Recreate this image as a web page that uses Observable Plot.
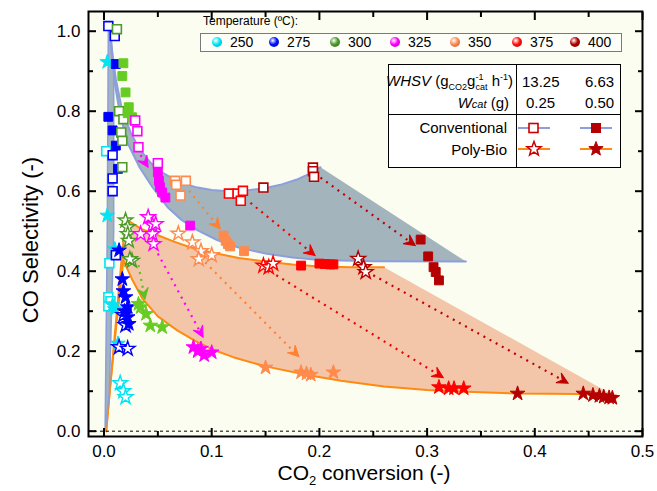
<!DOCTYPE html>
<html><head><meta charset="utf-8">
<script src="https://cdn.jsdelivr.net/npm/d3@7"></script>
<script src="https://cdn.jsdelivr.net/npm/@observablehq/plot@0.6"></script>
<style>
body{margin:0;background:#fff;}
#wrap{position:relative;width:657px;height:491px;font-family:"Liberation Sans",Arial,sans-serif;color:#000;}
.abs{position:absolute;white-space:nowrap;line-height:1;}
.sph{position:absolute;width:10px;height:10px;border-radius:50%;}
</style></head><body>
<div id="wrap"></div>
<script>
// ---------- categories ----------
const temps = [250, 275, 300, 325, 350, 375, 400];
const strokeColors = ["#00e4f4", "#0000ff", "#4e9a28", "#ff00ff", "#ff8a4c", "#ff0000", "#b40000"];
const fillColors   = ["#00e4f4", "#0000ff", "#66cc22", "#ff00ff", "#ff8a4c", "#ff0000", "#b40000"];
const legendSphere = ["#00e8f8", "#0010ff", "#4c9a2a", "#ff00ff", "#ff8a50", "#ff1010", "#b00000"];

// ---------- data (x = CO2 conversion, y = CO selectivity) ----------
// conventional, W = 0.25 g (open squares) / 0.50 g (filled squares)
const conv250_025 = [[0.002,0.700],[0.005,0.420],[0.004,0.335],[0.006,0.325],[0.004,0.312]];
const conv250_050 = [];
const conv275_025 = [[0.004,1.013],[0.010,0.988],[0.008,0.690],[0.008,0.632],[0.008,0.600],[0.011,0.440]];
const conv275_050 = [[0.011,0.918],[0.004,0.786],[0.008,0.752],[0.011,0.714],[0.013,0.656]];
const conv300_025 = [[0.012,1.005],[0.014,0.800],[0.018,0.780],[0.016,0.747],[0.017,0.726],[0.017,0.660]];
const conv300_050 = [[0.018,0.920],[0.017,0.888],[0.020,0.847],[0.023,0.810],[0.022,0.795],[0.026,0.785],[0.028,0.777]];
const conv325_025 = [[0.029,0.777],[0.031,0.750],[0.032,0.710],[0.050,0.670]];
const conv325_050 = [[0.050,0.647],[0.051,0.626],[0.052,0.610],[0.054,0.597],[0.057,0.584],[0.080,0.514]];
const conv350_025 = [[0.066,0.626],[0.076,0.626],[0.071,0.589],[0.067,0.616]];
const conv350_050 = [[0.111,0.489],[0.113,0.476],[0.115,0.468],[0.117,0.462],[0.130,0.450]];
const conv375_025 = [[0.116,0.594],[0.124,0.594],[0.129,0.601],[0.127,0.576]];
const conv375_050 = [[0.183,0.414],[0.200,0.419],[0.205,0.418],[0.210,0.417],[0.213,0.417]];
const conv400_025 = [[0.148,0.609],[0.194,0.659],[0.194,0.650],[0.195,0.636]];
const conv400_050 = [[0.294,0.479],[0.301,0.437],[0.306,0.410],[0.308,0.398],[0.311,0.377]];
// poly-bio, W = 0.25 g (open stars) / 0.50 g (filled stars)
const poly250_025 = [[0.015,0.120],[0.018,0.100],[0.020,0.085]];
const poly250_050 = [[0.003,0.923],[0.003,0.539],[0.008,0.315],[0.010,0.305],[0.013,0.219],[0.010,0.455]];
const poly275_025 = [[0.018,0.290],[0.020,0.265],[0.014,0.210],[0.022,0.206]];
const poly275_050 = [[0.014,0.452],[0.017,0.380],[0.018,0.350],[0.020,0.335],[0.022,0.310],[0.019,0.300],[0.022,0.285],[0.023,0.268]];
const poly300_025 = [[0.020,0.527],[0.022,0.510],[0.022,0.493],[0.023,0.476],[0.026,0.426],[0.024,0.430]];
const poly300_050 = [[0.032,0.318],[0.034,0.310],[0.039,0.293],[0.043,0.264],[0.054,0.260]];
const poly325_025 = [[0.041,0.535],[0.045,0.515],[0.034,0.493],[0.045,0.493],[0.046,0.468],[0.048,0.518]];
const poly325_050 = [[0.083,0.210],[0.087,0.200],[0.090,0.206],[0.093,0.190],[0.100,0.197]];
const poly350_025 = [[0.069,0.494],[0.082,0.472],[0.090,0.450],[0.088,0.430],[0.100,0.440]];
const poly350_050 = [[0.150,0.159],[0.183,0.147],[0.188,0.144],[0.192,0.141],[0.213,0.147]];
const poly375_025 = [[0.148,0.414],[0.153,0.410],[0.157,0.419]];
const poly375_050 = [[0.311,0.110],[0.320,0.107],[0.325,0.107],[0.334,0.107]];
const poly400_025 = [[0.236,0.431],[0.241,0.410],[0.243,0.398]];
const poly400_050 = [[0.384,0.094],[0.445,0.094],[0.454,0.090],[0.460,0.088],[0.464,0.086],[0.469,0.084],[0.472,0.083]];

// ---------- shaded regions ----------
const convBand  = [[0.001,0.0],[0.003,0.5],[0.004,1.0],[0.006,1.01],[0.009,0.90],[0.009,0.5],[0.005,0.10],[0.001,0.0]];
const convUpper = [[0.005,1.005],[0.008,0.940],[0.011,0.880],[0.017,0.800],[0.025,0.745],[0.033,0.705],[0.043,0.672],[0.055,0.645],[0.070,0.622],[0.087,0.609],[0.100,0.603],[0.115,0.600],[0.130,0.601],[0.148,0.607],[0.165,0.617],[0.180,0.630],[0.192,0.645],[0.201,0.660]];
const convTip   = [0.336, 0.424];
const convLower = [[0.005,1.005],[0.007,0.950],[0.010,0.870],[0.015,0.790],[0.022,0.720],[0.033,0.660],[0.045,0.610],[0.059,0.560],[0.072,0.528],[0.087,0.502],[0.105,0.478],[0.124,0.460],[0.150,0.444],[0.175,0.434],[0.200,0.428],[0.250,0.425],[0.336,0.424]];
const polyLeft  = [[0.002,0.0],[0.007,0.150],[0.012,0.300],[0.016,0.420],[0.019,0.500],[0.023,0.525]];
const polyUpper = [[0.023,0.525],[0.035,0.505],[0.050,0.490],[0.065,0.474],[0.080,0.460],[0.100,0.447],[0.125,0.433],[0.150,0.424],[0.175,0.417],[0.200,0.412],[0.230,0.410],[0.260,0.410]];
const polyTip   = [0.473, 0.090];
const polyLower = [[0.473,0.090],[0.440,0.093],[0.384,0.094],[0.330,0.099],[0.300,0.103],[0.260,0.112],[0.220,0.126],[0.190,0.140],[0.150,0.162],[0.120,0.185],[0.100,0.205],[0.085,0.225],[0.068,0.252],[0.050,0.287],[0.036,0.330],[0.026,0.380],[0.018,0.427]];
const polyRight = [[0.018,0.427],[0.012,0.280],[0.006,0.120],[0.002,0.0]];

// ---------- arrows (from -> to) ----------
const arrowTemp = [300, 325, 325, 350, 350, 375, 375, 400, 400];
const arrowFrom = [[0.032,0.415],[0.034,0.690],[0.050,0.444],[0.079,0.601],[0.094,0.422],[0.136,0.571],[0.160,0.390],[0.201,0.634],[0.250,0.390]];
const arrowTo   = [[0.038,0.330],[0.041,0.660],[0.092,0.235],[0.108,0.506],[0.181,0.186],[0.196,0.439],[0.315,0.134],[0.289,0.464],[0.431,0.120]];
const arrowColors = {300:"#5cc020", 325:"#ff00ff", 350:"#ff8030", 375:"#ee0000", 400:"#c00000"};

// ---------- ticks ----------
const xTicks = [0, 0.1, 0.2, 0.3, 0.4, 0.5];
const xMinor = [0.05, 0.15, 0.25, 0.35, 0.45];
const yTicks = [0, 0.2, 0.4, 0.6, 0.8, 1.0];
const yMinor = [0.1, 0.3, 0.5, 0.7, 0.9];

// ---------- layout ----------
const W = 657, H = 491, mL = 88, mR = 15, mT = 11, mB = 55;
const xDomain = [-0.0144, 0.5], yDomain = [-0.0133, 1.0493];
const kx = (W - mL - mR) / (xDomain[1] - xDomain[0]);
const ky = (H - mT - mB) / (yDomain[1] - yDomain[0]);

// ---------- build ----------
const P = a => a.map(([x, y]) => ({x, y}));
const convSeries = [conv250_025,conv250_050,conv275_025,conv275_050,conv300_025,conv300_050,conv325_025,conv325_050,conv350_025,conv350_050,conv375_025,conv375_050,conv400_025,conv400_050];
const polySeries = [poly250_025,poly250_050,poly275_025,poly275_050,poly300_025,poly300_050,poly325_025,poly325_050,poly350_025,poly350_050,poly375_025,poly375_050,poly400_025,poly400_050];

const convPoly = P([...convUpper, convTip, ...convLower.slice().reverse()]);
const polyPoly = P([...polyLeft, ...polyUpper, polyTip, ...polyLower, ...polyRight]);

const arrows = arrowTemp.map((t, i) => {
  const [x1, y1] = arrowFrom[i], [x2, y2] = arrowTo[i];
  const dxp = (x2 - x1) * kx, dyp = -(y2 - y1) * ky;
  return {x1, y1, x2, y2, c: arrowColors[t], rot: Math.atan2(dxp, -dyp) * 180 / Math.PI};
});

// arrow-head symbol: tip at the origin, pointing up
const arrowHead = {
  draw(ctx) {
    const L = 11, w = 5.5;
    ctx.moveTo(0, 0);
    ctx.lineTo(-w, L);
    ctx.lineTo(0, L * 0.62);
    ctx.lineTo(w, L);
    ctx.closePath();
  }
};

const GRAY = "#a4b4bc", BLUE = "#8c9fdc", PEACH = "#f3c6aa", ORANGE = "#ff8a10";

const marks = [
  Plot.frame({fill: "#fbfdf0", stroke: null}),
  // poly-bio region
  Plot.line(polyPoly, {x: "x", y: "y", fill: PEACH, stroke: "none"}),
  Plot.line(P(polyLeft), {x: "x", y: "y", stroke: ORANGE, strokeWidth: 2}),
  Plot.line(P(polyUpper), {x: "x", y: "y", stroke: ORANGE, strokeWidth: 2}),
  Plot.line(P(polyLower), {x: "x", y: "y", stroke: ORANGE, strokeWidth: 2}),
  Plot.line(P(polyRight), {x: "x", y: "y", stroke: ORANGE, strokeWidth: 2}),
  // conventional region
  Plot.line(convPoly, {x: "x", y: "y", fill: GRAY, stroke: "none"}),
  Plot.line(P(convBand), {x: "x", y: "y", fill: GRAY, stroke: BLUE, strokeWidth: 1.5}),
  Plot.line(P(convUpper), {x: "x", y: "y", stroke: BLUE, strokeWidth: 2}),
  Plot.line(P(convLower), {x: "x", y: "y", stroke: BLUE, strokeWidth: 2}),
  // zero line
  Plot.ruleY([0], {stroke: "black", strokeWidth: 1, strokeDasharray: "3,3"}),
  // arrows: dotted shaft + head
  Plot.link(arrows, {x1: "x1", y1: "y1", x2: "x2", y2: "y2", stroke: "c", strokeWidth: 2.2, strokeDasharray: "2,5"}),
  Plot.dot(arrows, {x: "x2", y: "y2", symbol: arrowHead, rotate: "rot", fill: "c", stroke: "c", strokeWidth: 1})
];

temps.forEach((t, i) => {
  const sc = strokeColors[i], fc = fillColors[i];
  marks.push(Plot.dot(P(convSeries[2*i]),   {x: "x", y: "y", symbol: "square", r: 5, fill: "white", stroke: sc, strokeWidth: 1.6}));
  marks.push(Plot.dot(P(convSeries[2*i+1]), {x: "x", y: "y", symbol: "square", r: 5, fill: fc, stroke: fc, strokeWidth: 1}));
  marks.push(Plot.dot(P(polySeries[2*i]),   {x: "x", y: "y", symbol: "star", r: 4.6, fill: "white", stroke: sc, strokeWidth: 1.4}));
  marks.push(Plot.dot(P(polySeries[2*i+1]), {x: "x", y: "y", symbol: "star", r: 4.6, fill: fc, stroke: fc, strokeWidth: 1}));
});

marks.push(
  Plot.frame({stroke: "black", strokeWidth: 2}),
  Plot.axisX({anchor: "bottom", ticks: xTicks, tickSize: -8, fill: "none", strokeWidth: 2}),
  Plot.axisX({anchor: "bottom", ticks: xMinor, tickSize: -5, fill: "none", strokeWidth: 2}),
  Plot.axisX({anchor: "top", ticks: xTicks, tickSize: -8, fill: "none", strokeWidth: 2}),
  Plot.axisX({anchor: "top", ticks: xMinor, tickSize: -5, fill: "none", strokeWidth: 2}),
  Plot.axisY({anchor: "left", ticks: yTicks, tickSize: -8, fill: "none", strokeWidth: 2}),
  Plot.axisY({anchor: "left", ticks: yMinor, tickSize: -5, fill: "none", strokeWidth: 2}),
  Plot.axisY({anchor: "right", ticks: yTicks, tickSize: -8, fill: "none", strokeWidth: 2}),
  Plot.axisY({anchor: "right", ticks: yMinor, tickSize: -5, fill: "none", strokeWidth: 2}),
  Plot.axisX({anchor: "bottom", ticks: xTicks, tickSize: 0, tickPadding: 8, tickFormat: d3.format(".1f"), label: null}),
  Plot.axisY({anchor: "left", ticks: yTicks, tickSize: 0, tickPadding: 8, tickFormat: d3.format(".1f"), label: null})
);

const chart = Plot.plot({
  width: W, height: H,
  marginLeft: mL, marginRight: mR, marginTop: mT, marginBottom: mB,
  x: {domain: xDomain, axis: null},
  y: {domain: yDomain, axis: null},
  style: {fontFamily: "'Liberation Sans', Arial, sans-serif", fontSize: "17px", background: "white", overflow: "visible"},
  marks
});

const wrap = document.getElementById("wrap");
wrap.appendChild(chart);

function addDiv(html, css) {
  const d = document.createElement("div");
  d.className = "abs";
  d.innerHTML = html;
  d.style.cssText += css;
  wrap.appendChild(d);
  return d;
}

// axis titles
addDiv("CO Selectivity (-)", "font-size:22px;line-height:18px;left:31px;top:240px;transform:translate(-50%,-50%) rotate(-90deg);");
addDiv("CO<sub style='font-size:13px;vertical-align:-5px;line-height:0'>2</sub> conversion (-)", "font-size:21px;line-height:16px;left:364px;top:473px;transform:translate(-50%,-50%);");

// temperature legend
addDiv("Temperature (ºC):", "font-size:12px;left:203px;top:15px;");
addDiv("", "left:200px;top:33px;width:420px;height:17px;border:1px solid #7a7a7a;background:#fdfef8;");
const sphereX = [217, 274, 335, 395, 455, 517, 575];
temps.forEach((t, i) => {
  const c = legendSphere[i];
  const s = document.createElement("div");
  s.className = "sph";
  s.style.cssText = `left:${sphereX[i]-5}px;top:37px;background:radial-gradient(circle at 38% 35%, #ffffff 0%, ${c} 45%, ${d3.color(c).darker(1.2)} 100%);`;
  wrap.appendChild(s);
  addDiv(String(t), `font-size:14px;left:${sphereX[i]+13}px;top:35px;`);
});

// table legend
addDiv("", "left:388px;top:64px;width:231px;height:102px;border:1px solid #000;background:#fff;");
addDiv("", "left:516px;top:64px;width:1px;height:103px;background:#000;");
addDiv("", "left:388px;top:114px;width:232px;height:1px;background:#000;");
addDiv("<i>WHSV</i> (g<sub style='font-size:9px'>CO2</sub>g<sup style='font-size:9px'>-1</sup><sub style='font-size:9px;margin-left:-8px'>cat</sub> h<sup style='font-size:9px'>-1</sup>)",
  "font-size:15px;right:" + (657-513) + "px;top:73px;");
addDiv("<i>W<span style='font-size:11px'>cat</span></i> (g)", "font-size:15px;right:" + (657-509) + "px;top:95px;");
addDiv("13.25", "font-size:15px;left:522px;top:74px;");
addDiv("6.63", "font-size:15px;left:585px;top:74px;");
addDiv("0.25", "font-size:15px;left:526px;top:95px;");
addDiv("0.50", "font-size:15px;left:585px;top:95px;");
addDiv("Conventional", "font-size:15px;right:" + (657-507) + "px;top:120px;");
addDiv("Poly-Bio", "font-size:15px;right:" + (657-507) + "px;top:142px;");
const starPath = (cx, cy, R) => {
  const r = R * 0.42; let p = [];
  for (let k = 0; k < 10; k++) { const a = -Math.PI/2 + k*Math.PI/5; const rr = k%2 ? r : R; p.push((cx + rr*Math.cos(a)).toFixed(2) + "," + (cy + rr*Math.sin(a)).toFixed(2)); }
  return p.join(" ");
};
const legSvg = `<svg width="110" height="50" style="overflow:visible">
 <line x1="2" y1="14" x2="34" y2="14" stroke="${BLUE}" stroke-width="2"/>
 <rect x="13" y="9.5" width="9" height="9" fill="white" stroke="#cc0000" stroke-width="1.6"/>
 <line x1="64" y1="14" x2="96" y2="14" stroke="${BLUE}" stroke-width="2"/>
 <rect x="75" y="9" width="10" height="10" fill="#b40000"/>
 <line x1="2" y1="35" x2="34" y2="35" stroke="${ORANGE}" stroke-width="2"/>
 <polygon points="${starPath(18,35,7.5)}" fill="white" stroke="#cc0000" stroke-width="1.5"/>
 <line x1="64" y1="35" x2="96" y2="35" stroke="${ORANGE}" stroke-width="2"/>
 <polygon points="${starPath(80,35,7.5)}" fill="#b40000" stroke="#b40000" stroke-width="1"/>
</svg>`;
addDiv(legSvg, "left:516px;top:114px;");
</script></body></html>
